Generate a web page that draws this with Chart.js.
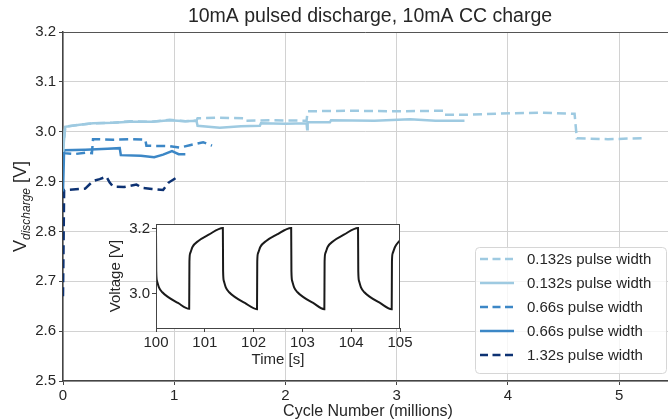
<!DOCTYPE html>
<html>
<head>
<meta charset="utf-8">
<script src="https://cdn.jsdelivr.net/npm/chart.js@4.4.2/dist/chart.umd.min.js"></script>
<style>
  html, body { margin: 0; padding: 0; background: #fff; }
  #wrap { position: relative; width: 668px; height: 419px; overflow: hidden; }
  #main { position: absolute; left: 0; top: 0; }
  #inset { position: absolute; left: 90px; top: 212px; }
</style>
</head>
<body>
<div id="wrap">
  <canvas id="main" width="668" height="419"></canvas>
  <canvas id="inset" width="330" height="160"></canvas>
</div>
<script>
// main chart: cycle number (millions) vs discharge voltage
const titleText = '10mA pulsed discharge, 10mA CC charge';
const mainXTicks = [0, 1, 2, 3, 4, 5];
const mainYTicks = [2.5, 2.6, 2.7, 2.8, 2.9, 3.0, 3.1, 3.2];

const seriesLabels = ['0.132s pulse width', '0.132s pulse width', '0.66s pulse width', '0.66s pulse width', '1.32s pulse width'];

const lbDashX = [0, 0.02, 0.15, 0.27, 0.45, 0.6, 0.8, 0.96, 1.1, 1.2, 1.21, 1.4, 1.62, 1.63, 1.9, 2.19, 2.2, 2.6, 3.0, 3.42, 3.43, 3.63, 4.02, 4.3, 4.6, 4.62, 4.9, 5.21];
const lbDashY = [2.96, 3.010, 3.014, 3.017, 3.018, 3.021, 3.020, 3.024, 3.021, 3.022, 3.027, 3.028, 3.027, 3.022, 3.023, 3.022, 3.041, 3.042, 3.041, 3.042, 3.034, 3.034, 3.037, 3.038, 3.036, 2.987, 2.985, 2.987];

const lbSolidX = [0, 0.02, 0.15, 0.27, 0.45, 0.6, 0.8, 0.96, 1.1, 1.2, 1.21, 1.41, 1.6, 1.77, 1.78, 2.0, 2.19, 2.195, 2.2, 2.4, 2.41, 2.8, 3.12, 3.35, 3.61];
const lbSolidY = [2.96, 3.010, 3.014, 3.017, 3.018, 3.020, 3.020, 3.023, 3.021, 3.022, 3.012, 3.008, 3.011, 3.012, 3.017, 3.016, 3.017, 3.005, 3.019, 3.019, 3.023, 3.022, 3.025, 3.022, 3.022];

const mdDashX = [0, 0.01, 0.1, 0.2, 0.26, 0.27, 0.45, 0.6, 0.74, 0.75, 0.96, 1.05, 1.14, 1.26, 1.34];
const mdDashY = [2.96, 2.957, 2.955, 2.958, 2.957, 2.985, 2.984, 2.985, 2.984, 2.972, 2.971, 2.968, 2.973, 2.979, 2.972];

const mdSolidX = [0, 0.01, 0.2, 0.4, 0.51, 0.52, 0.7, 0.82, 0.9, 0.98, 1.04, 1.10];
const mdSolidY = [2.88, 2.963, 2.964, 2.966, 2.967, 2.953, 2.952, 2.949, 2.954, 2.961, 2.955, 2.955];

const navyX = [0, 0.01, 0.2, 0.27, 0.33, 0.39, 0.42, 0.45, 0.55, 0.66, 0.72, 0.8, 0.9, 0.95, 1.02];
const navyY = [2.67, 2.883, 2.886, 2.901, 2.905, 2.910, 2.898, 2.890, 2.889, 2.894, 2.887, 2.885, 2.883, 2.898, 2.908];

// inset: voltage trace over 5 seconds
const insetXTicks = [100, 101, 102, 103, 104, 105];
const insetYTicks = [3.0, 3.2];
const insetTime = [
  100.00, 100.005, 100.02, 100.06, 100.13, 100.25, 100.45, 100.68,
  100.685, 100.70, 100.75, 100.86, 101.08, 101.37,
  101.375, 101.39, 101.43, 101.50, 101.62, 101.82, 102.07,
  102.075, 102.09, 102.14, 102.25, 102.47, 102.77,
  102.775, 102.79, 102.83, 102.90, 103.02, 103.22, 103.45,
  103.455, 103.47, 103.52, 103.63, 103.85, 104.14,
  104.145, 104.16, 104.20, 104.27, 104.39, 104.59, 104.83,
  104.835, 104.85, 104.90, 105.00
];
const insetVolt = [
  3.200, 3.070, 3.040, 3.020, 3.005, 2.990, 2.972, 2.954,
  3.100, 3.125, 3.145, 3.162, 3.182, 3.203,
  3.070, 3.040, 3.020, 3.005, 2.990, 2.972, 2.953,
  3.100, 3.125, 3.145, 3.162, 3.182, 3.203,
  3.070, 3.040, 3.020, 3.005, 2.990, 2.972, 2.953,
  3.100, 3.125, 3.145, 3.162, 3.182, 3.203,
  3.070, 3.040, 3.020, 3.005, 2.990, 2.972, 2.953,
  3.100, 3.125, 3.145, 3.165
];

const FONT = "'Liberation Sans', Arial, sans-serif";
const TEXT = '#262626';
Chart.defaults.font.family = FONT;
Chart.defaults.color = TEXT;

const pts = (xs, ys) => xs.map((x, i) => ({ x: x, y: ys[i] }));

const line = (label, xs, ys, color, dashed) => ({
  label: label,
  data: pts(xs, ys),
  borderColor: color,
  backgroundColor: color,
  borderWidth: 2.5,
  borderDash: dashed ? [9, 5] : [],
  pointRadius: 0,
  tension: 0,
  fill: false
});

const mainDecor = {
  id: 'mainDecor',
  afterDraw: (chart) => {
    const ctx = chart.ctx;
    const a = chart.chartArea;
    ctx.save();
    // top spine
    ctx.strokeStyle = '#555';
    ctx.lineWidth = 1;
    ctx.beginPath();
    ctx.moveTo(a.left, a.top + 0.5);
    ctx.lineTo(a.right, a.top + 0.5);
    ctx.stroke();

    ctx.fillStyle = TEXT;
    ctx.textAlign = 'center';
    ctx.textBaseline = 'middle';
    ctx.font = '19.5px ' + FONT;
    ctx.fillText(titleText, 370, 17);

    ctx.textBaseline = 'alphabetic';
    ctx.font = '16px ' + FONT;
    ctx.fillText('Cycle Number (millions)', 368, 416);

    // y title with subscript
    const big = '18px ' + FONT;
    const small = 'italic 12px ' + FONT;
    ctx.font = big;
    const w1 = ctx.measureText('V').width;
    const w3 = ctx.measureText(' [V]').width;
    ctx.font = small;
    const w2 = ctx.measureText('discharge').width;
    const total = w1 + w2 + w3;
    ctx.translate(20, (a.top + a.bottom) / 2);
    ctx.rotate(-Math.PI / 2);
    ctx.textAlign = 'left';
    let x = -total / 2;
    ctx.font = big;
    ctx.fillText('V', x, 6);
    x += w1;
    ctx.font = small;
    ctx.fillText('discharge', x, 10);
    x += w2;
    ctx.font = big;
    ctx.fillText(' [V]', x, 6);
    ctx.restore();

    // legend box
    ctx.save();
    const lx = 475, ly = 247, lw = 191, lh = 126;
    ctx.beginPath();
    ctx.roundRect(lx + 0.5, ly + 0.5, lw, lh, 4);
    ctx.fillStyle = 'rgba(255,255,255,0.8)';
    ctx.fill();
    ctx.strokeStyle = '#d6d6d6';
    ctx.lineWidth = 1;
    ctx.stroke();
    ctx.font = '15px ' + FONT;
    ctx.textBaseline = 'middle';
    ctx.textAlign = 'left';
    chart.data.datasets.forEach((ds, i) => {
      const y = 259 + i * 24;
      ctx.strokeStyle = ds.borderColor;
      ctx.lineWidth = 2.5;
      ctx.setLineDash(ds.borderDash.length ? [8, 4.5] : []);
      ctx.beginPath();
      ctx.moveTo(480, y);
      ctx.lineTo(514, y);
      ctx.stroke();
      ctx.setLineDash([]);
      ctx.fillStyle = TEXT;
      ctx.fillText(ds.label, 527, y + 1);
    });
    ctx.restore();
  }
};

new Chart(document.getElementById('main'), {
  type: 'line',
  data: {
    datasets: [
      line(seriesLabels[0], lbDashX, lbDashY, '#9ecae1', true),
      line(seriesLabels[1], lbSolidX, lbSolidY, '#9ecae1', false),
      line(seriesLabels[2], mdDashX, mdDashY, '#3c87c6', true),
      line(seriesLabels[3], mdSolidX, mdSolidY, '#3c87c6', false),
      line(seriesLabels[4], navyX, navyY, '#0d3273', true)
    ]
  },
  options: {
    responsive: false,
    animation: false,
    devicePixelRatio: 1,
    layout: { padding: { top: 32, left: 0, right: 0, bottom: 0 } },
    plugins: { legend: { display: false }, title: { display: false }, tooltip: { enabled: false } },
    scales: {
      x: {
        type: 'linear',
        min: 0,
        max: 5.44,
        afterBuildTicks: (s) => { s.ticks = mainXTicks.map(v => ({ value: v })); },
        afterFit: (s) => { s.height = 38; },
        ticks: { font: { size: 15 }, color: TEXT, padding: 2, maxRotation: 0, callback: (v) => String(v) },
        grid: { color: '#d2d2d2', lineWidth: 1, tickLength: 4, tickColor: '#444' },
        border: { color: '#444', width: 1.5 }
      },
      y: {
        type: 'linear',
        min: 2.5,
        max: 3.2,
        afterBuildTicks: (s) => { s.ticks = mainYTicks.map(v => ({ value: v })); },
        afterFit: (s) => { s.width = 63; },
        ticks: { font: { size: 15 }, color: TEXT, padding: 3, callback: (v) => v.toFixed(1) },
        grid: { color: '#d2d2d2', lineWidth: 1, tickLength: 4, tickColor: '#444' },
        border: { color: '#444', width: 1.5 }
      }
    }
  },
  plugins: [mainDecor]
});

const insetDecor = {
  id: 'insetDecor',
  beforeDraw: (chart) => {
    const ctx = chart.ctx;
    const a = chart.chartArea;
    ctx.save();
    ctx.fillStyle = '#fff';
    ctx.fillRect(a.left, a.top, a.right - a.left, a.bottom - a.top);
    ctx.restore();
  },
  afterDraw: (chart) => {
    const ctx = chart.ctx;
    const a = chart.chartArea;
    ctx.save();
    ctx.strokeStyle = '#444';
    ctx.lineWidth = 1;
    ctx.strokeRect(a.left + 0.5, a.top + 0.5, a.right - a.left - 1, a.bottom - a.top);
    ctx.fillStyle = TEXT;
    ctx.font = '15px ' + FONT;
    ctx.textAlign = 'center';
    ctx.textBaseline = 'middle';
    ctx.fillText('Time [s]', (a.left + a.right) / 2, 148);
    ctx.translate(26, (a.top + a.bottom) / 2);
    ctx.rotate(-Math.PI / 2);
    ctx.fillText('Voltage [V]', 0, 0);
    ctx.restore();
  }
};

new Chart(document.getElementById('inset'), {
  type: 'line',
  data: {
    datasets: [{
      data: pts(insetTime, insetVolt),
      borderColor: '#1a1a1a',
      borderWidth: 2,
      pointRadius: 0,
      cubicInterpolationMode: 'monotone',
      fill: false
    }]
  },
  options: {
    responsive: false,
    animation: false,
    devicePixelRatio: 1,
    layout: { padding: { top: 12, left: 0, right: 20, bottom: 0 } },
    plugins: { legend: { display: false }, tooltip: { enabled: false } },
    scales: {
      x: {
        type: 'linear',
        min: 100,
        max: 105,
        afterBuildTicks: (s) => { s.ticks = insetXTicks.map(v => ({ value: v })); },
        afterFit: (s) => { s.height = 44; },
        ticks: { font: { size: 15 }, color: TEXT, padding: 2, maxRotation: 0, callback: (v) => String(v) },
        grid: { drawOnChartArea: false, tickLength: 4, tickColor: '#444' },
        border: { display: false }
      },
      y: {
        type: 'linear',
        min: 2.895,
        max: 3.215,
        afterBuildTicks: (s) => { s.ticks = insetYTicks.map(v => ({ value: v })); },
        afterFit: (s) => { s.width = 66; },
        ticks: { font: { size: 15 }, color: TEXT, padding: 2, callback: (v) => v.toFixed(1) },
        grid: { drawOnChartArea: false, tickLength: 4, tickColor: '#444' },
        border: { display: false }
      }
    }
  },
  plugins: [insetDecor]
});
</script>
</body>
</html>
